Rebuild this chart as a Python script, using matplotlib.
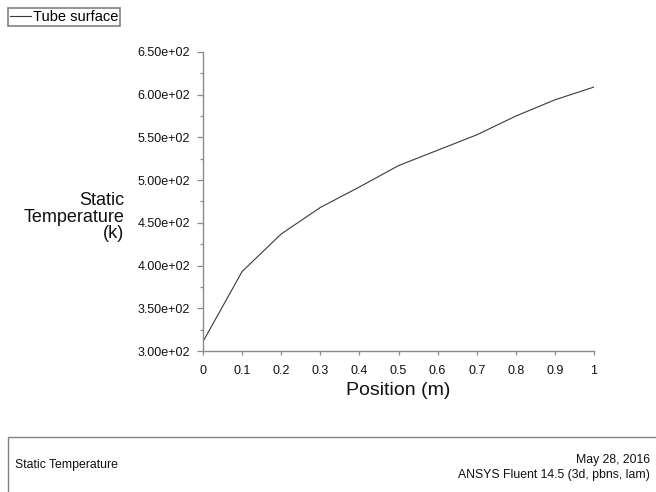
"""Static temperature along the tube surface (Fluent XY plot export style)."""

import matplotlib.pyplot as plt
from matplotlib.patches import Rectangle
from matplotlib.ticker import FormatStrFormatter, MultipleLocator

plt.rcParams["font.family"] = ["Liberation Sans", "DejaVu Sans"]

position = [0.0, 0.1, 0.2, 0.3, 0.4, 0.5, 0.6, 0.7, 0.8, 0.9, 1.0]
temperature = [311, 393, 437, 468, 492, 517, 535, 553, 575, 594, 609]
x_ticks = [0, 0.1, 0.2, 0.3, 0.4, 0.5, 0.6, 0.7, 0.8, 0.9, 1]
x_tick_labels = ["0", "0.1", "0.2", "0.3", "0.4", "0.5", "0.6", "0.7", "0.8", "0.9", "1"]

W, H = 656, 492
fig = plt.figure(figsize=(W / 100, H / 100), dpi=100)
ax = fig.add_axes([203 / W, 1 - 351 / H, 391 / W, 299 / H])

line, = ax.plot(position, temperature, color="#3a3a3a", linewidth=0.8, label="Tube surface")

ax.set_xlim(0, 1)
ax.set_ylim(300, 650)
ax.set_xticks(x_ticks)
ax.set_xticklabels(x_tick_labels)
ax.yaxis.set_major_locator(MultipleLocator(50))
ax.yaxis.set_minor_locator(MultipleLocator(25))
ax.yaxis.set_major_formatter(FormatStrFormatter("%.2e"))

for side in ("top", "right"):
    ax.spines[side].set_visible(False)
for side in ("left", "bottom"):
    ax.spines[side].set_color("#8a8a8a")
    ax.spines[side].set_linewidth(1.0)

ax.tick_params(axis="y", which="major", direction="out", length=4.3, width=0.9,
               color="#8a8a8a", labelsize=9, pad=5, labelcolor="#111111")
ax.tick_params(axis="y", which="minor", direction="out", length=2.2, width=0.9,
               color="#8a8a8a")
ax.tick_params(axis="x", which="major", direction="out", length=2.9, width=0.9,
               color="#8a8a8a", labelsize=9, pad=7, labelcolor="#111111")

ax.set_xlabel("Position (m)", fontsize=14, color="#111111", labelpad=4)
fig.text(124 / W, 1 - 217 / H, "Static\nTemperature\n(k)", fontsize=13,
         ha="right", va="center", multialignment="right", linespacing=0.95,
         color="#111111")

fig.legend(handles=[line], loc="upper left", bbox_to_anchor=(8 / W, 1 - 8 / H),
           borderaxespad=0, borderpad=0.12, handlelength=1.45, handletextpad=0.15,
           fontsize=10.5, frameon=True, fancybox=False, edgecolor="#808080",
           framealpha=1)
leg = fig.legends[0]
leg.get_frame().set_linewidth(1.2)

# footer box with plot title and solver info
fig.patches.append(Rectangle((8 / W, -0.05), 1.0, 0.05 + (H - 437) / H,
                             transform=fig.transFigure, fill=False,
                             edgecolor="#808080", linewidth=1.0))
fig.text(15 / W, 1 - 465 / H, "Static Temperature", fontsize=8.8,
         ha="left", va="center", color="#111111")
fig.text(650 / W, 1 - 460 / H, "May 28, 2016", fontsize=8.8,
         ha="right", va="center", color="#111111")
fig.text(650 / W, 1 - 475 / H, "ANSYS Fluent 14.5 (3d, pbns, lam)", fontsize=8.8,
         ha="right", va="center", color="#111111")

fig.savefig("out.png", dpi=100, facecolor="white")
plt.close(fig)
